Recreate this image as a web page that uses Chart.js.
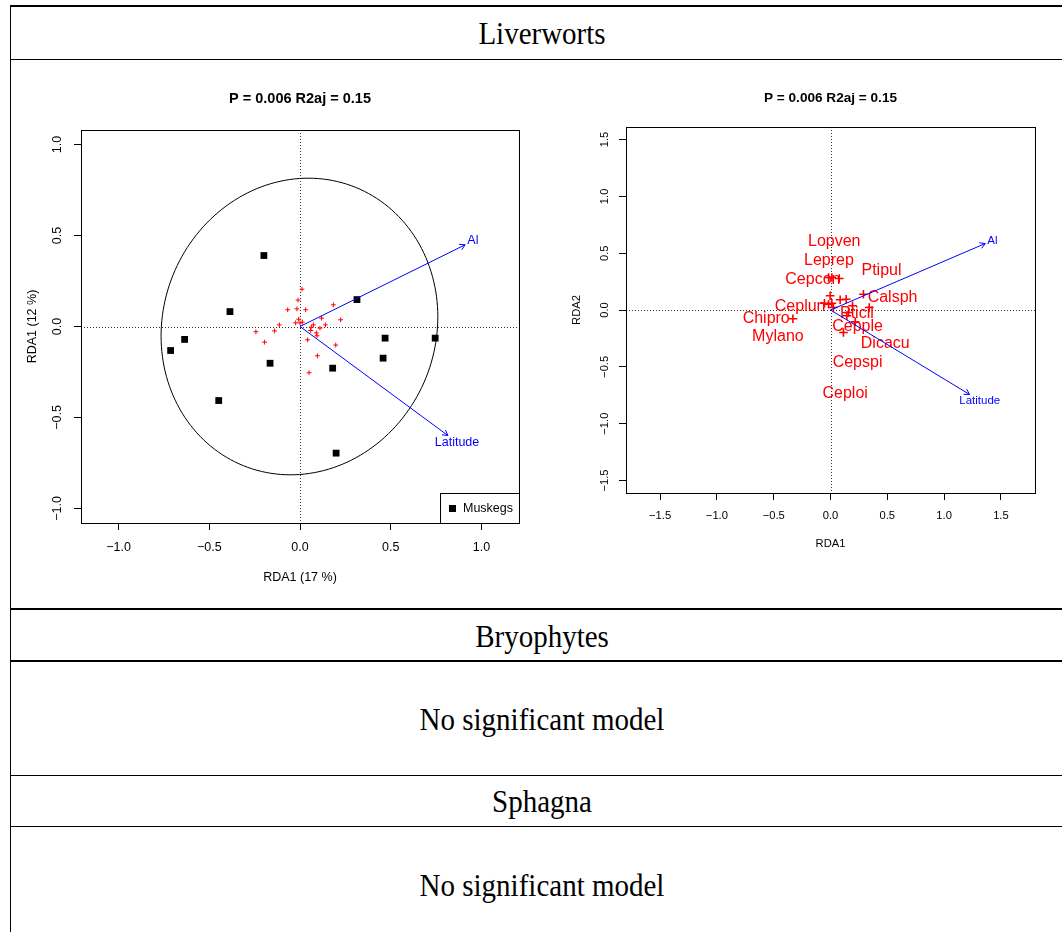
<!DOCTYPE html>
<html>
<head>
<meta charset="utf-8">
<script src="https://cdn.jsdelivr.net/npm/chart.js@4.4.1/dist/chart.umd.min.js"></script>
<style>
body { margin: 0; background: #fff; width: 1062px; height: 932px; overflow: hidden; position: relative; font-family: "Liberation Serif", "Times New Roman", serif; }
.hl { position: absolute; left: 10px; width: 1052px; background: #000; }
.vl { position: absolute; left: 10px; top: 5px; width: 1px; height: 927px; background: #000; }
.cell { position: absolute; left: 10px; width: 1064px; height: 34px; line-height: 34px; text-align: center; font-size: 29px; color: #000; transform: scaleY(1.1); }
#left { position: absolute; left: 11px; top: 60px; }
#right { position: absolute; left: 560px; top: 60px; }
</style>
</head>
<body>
<div class="hl" style="top:5px;height:2px"></div>
<div class="hl" style="top:59px;height:1px"></div>
<div class="hl" style="top:608px;height:2px"></div>
<div class="hl" style="top:660px;height:2px"></div>
<div class="hl" style="top:775px;height:1px"></div>
<div class="hl" style="top:826px;height:1px"></div>
<div class="vl"></div>

<div class="cell" style="top:16px">Liverworts</div>
<div class="cell" style="top:619px">Bryophytes</div>
<div class="cell" style="top:702px">No significant model</div>
<div class="cell" style="top:784px">Sphagna</div>
<div class="cell" style="top:868px">No significant model</div>

<canvas id="left" width="549" height="548"></canvas>
<canvas id="right" width="502" height="548"></canvas>

<script>
// ---- left panel : sites (Muskegs) ----
var siteX = [-0.199, -0.386, 0.314, -0.713, -0.636, -0.165, -0.448, 0.469, 0.745, 0.458, 0.180, 0.199];
var siteY = [0.390, 0.082, 0.148, -0.132, -0.071, -0.202, -0.407, -0.064, -0.064, -0.174, -0.229, -0.696];

// ---- left panel : species scores ----
var sppX = [0.011, -0.011, -0.017, -0.068, 0.031, 0.184, 0.224, 0.119, -0.007, -0.024, 0.000, 0.013, -0.114, -0.243,
            -0.140, -0.195, 0.074, 0.140, 0.110, 0.059, 0.090, 0.094, 0.042, 0.197, 0.096, 0.050, 0.062];
var sppY = [0.205, 0.145, 0.097, 0.092, 0.092, 0.119, 0.037, 0.046, 0.040, 0.020, 0.020, 0.024, 0.009, -0.029,
            -0.024, -0.086, 0.009, 0.009, -0.009, -0.022, -0.035, -0.051, -0.073, -0.102, -0.161, -0.254, -0.004];

// ellipse drawn on left panel: centre x, centre y, semi-axis a, semi-axis b, angle (deg)
var ellipseLeft = [-0.003, 0.0, 0.825, 0.752, 68];

// ---- explanatory variables ----
var envNames = ['Al', 'Latitude'];
var envLeftX = [0.910, 0.815];
var envLeftY = [0.449, -0.599];
var envRightX = [1.362, 1.224];
var envRightY = [0.585, -0.743];

// ---- right panel : labelled species ----
var labNames = ['Lopven', 'Leprep', 'Ptipul', 'Cepcon', 'Calsph', 'Ceplun', 'Pticil', 'Chipro', 'Cepple', 'Mylano', 'Dicacu', 'Cepspi', 'Ceploi'];
var labX = [0.033, -0.014, 0.449, -0.155, 0.546, -0.267, 0.232, -0.566, 0.238, -0.463, 0.482, 0.238, 0.129];
var labY = [0.602, 0.435, 0.347, 0.266, 0.107, 0.031, -0.028, -0.077, -0.145, -0.233, -0.292, -0.459, -0.732];

// ---- right panel : unlabelled species (+) ----
var plusX = [-0.017, 0.012, 0.077, -0.003, -0.053, -0.017, 0.012, 0.026, 0.085, 0.138, 0.194, 0.290, 0.341, 0.159, 0.144, 0.217, 0.114, -0.331];
var plusY = [0.286, 0.286, 0.277, 0.125, 0.060, 0.051, 0.060, 0.022, 0.090, 0.095, 0.037, 0.139, 0.022, -0.022, -0.051, -0.104, -0.198, -0.077];

// ---- tick labels ----
var ticksLeft = [-1, -0.5, 0, 0.5, 1];
var ticksRight = [-1.5, -1, -0.5, 0, 0.5, 1, 1.5];

var mainTitle = 'P = 0.006 R2aj = 0.15';
var SANS = '"Liberation Sans", Arial, Helvetica, sans-serif';

function pts(xs, ys) {
    return xs.map(function (x, i) { return { x: x, y: ys[i] }; });
}

function fmt(v) {
    return (v < 0 ? '\u2212' : '') + Math.abs(v).toFixed(1);
}

// box, dotted zero lines, rotated y tick labels
var rPlot = {
    id: 'rPlot',
    beforeDatasetsDraw: function (chart, args, o) {
        var ctx = chart.ctx, a = chart.chartArea;
        var xs = chart.scales.x, ys = chart.scales.y;
        ctx.save();
        ctx.lineWidth = 1;
        ctx.strokeStyle = '#333';
        ctx.setLineDash([1, 2]);
        var x0 = Math.round(xs.getPixelForValue(0)) + 0.5;
        var y0 = Math.round(ys.getPixelForValue(0)) + 0.5;
        ctx.beginPath();
        ctx.moveTo(x0, a.top); ctx.lineTo(x0, a.bottom);
        ctx.moveTo(a.left, y0); ctx.lineTo(a.right, y0);
        ctx.stroke();
        ctx.setLineDash([]);
        ctx.strokeStyle = '#000';
        ctx.strokeRect(Math.round(a.left) + 0.5, Math.round(a.top) + 0.5, Math.round(a.right - a.left), Math.round(a.bottom - a.top));

        if (o.ellipse) {
            var e = o.ellipse, th = e[4] * Math.PI / 180;
            ctx.beginPath();
            for (var k = 0; k <= 360; k += 2) {
                var t = k * Math.PI / 180;
                var ex = e[0] + e[2] * Math.cos(th) * Math.cos(t) - e[3] * Math.sin(th) * Math.sin(t);
                var ey = e[1] + e[2] * Math.sin(th) * Math.cos(t) + e[3] * Math.cos(th) * Math.sin(t);
                var px = xs.getPixelForValue(ex), py = ys.getPixelForValue(ey);
                if (k === 0) ctx.moveTo(px, py); else ctx.lineTo(px, py);
            }
            ctx.stroke();
        }

        ctx.fillStyle = '#000';
        ctx.font = o.tickSize + 'px ' + SANS;
        ctx.textAlign = 'center';
        ctx.textBaseline = 'middle';
        ys.ticks.forEach(function (t) {
            ctx.save();
            ctx.translate(a.left - o.yLabelGap, ys.getPixelForValue(t.value));
            ctx.rotate(-Math.PI / 2);
            ctx.fillText(fmt(t.value), 0, 0);
            ctx.restore();
        });
        ctx.restore();
    },
    afterDatasetsDraw: function (chart, args, o) {
        var ctx = chart.ctx, a = chart.chartArea;
        var xs = chart.scales.x, ys = chart.scales.y;
        ctx.save();
        // text labels attached to datasets
        chart.data.datasets.forEach(function (ds, i) {
            if (!ds.textLabels) return;
            var meta = chart.getDatasetMeta(i);
            ctx.fillStyle = ds.textColor;
            ctx.font = ds.textSize + 'px ' + SANS;
            ctx.textAlign = 'center';
            ctx.textBaseline = 'middle';
            meta.data.forEach(function (el, j) {
                ctx.fillText(ds.textLabels[j], el.x, el.y);
            });
        });

        // biplot arrows
        var ox = xs.getPixelForValue(0), oy = ys.getPixelForValue(0);
        ctx.strokeStyle = '#0000ff';
        ctx.fillStyle = '#0000ff';
        ctx.lineWidth = 1;
        ctx.font = o.arrowSize + 'px ' + SANS;
        ctx.textAlign = 'center';
        ctx.textBaseline = 'middle';
        o.arrowX.forEach(function (vx, i) {
            var tx = xs.getPixelForValue(vx), ty = ys.getPixelForValue(o.arrowY[i]);
            var ang = Math.atan2(ty - oy, tx - ox), hl = 6;
            ctx.beginPath();
            ctx.moveTo(ox, oy); ctx.lineTo(tx, ty);
            ctx.moveTo(tx - hl * Math.cos(ang - Math.PI / 6), ty - hl * Math.sin(ang - Math.PI / 6));
            ctx.lineTo(tx, ty);
            ctx.lineTo(tx - hl * Math.cos(ang + Math.PI / 6), ty - hl * Math.sin(ang + Math.PI / 6));
            ctx.stroke();
            // label just beyond the tip (vegan ordiArrowTextXY)
            var w = ctx.measureText(o.arrowNames[i]).width, h = 0.72 * o.arrowSize;
            var dx = tx - ox, dy = oy - ty, b = dy / dx;
            var offX = Math.sign(dx) * (w / 2 + h / 4), offY = 0.75 * h * Math.sign(dy);
            var mv = offY / b;
            if (isFinite(mv) && Math.abs(mv) <= Math.abs(offX)) offX = mv; else offY = b * offX;
            ctx.fillText(o.arrowNames[i], tx + offX, ty - offY);
        });

        // legend box
        if (o.legend) {
            var lw = 79, lh = 30;
            var lx = Math.round(a.right) - lw + 0.5, ly = Math.round(a.bottom) - lh + 0.5;
            ctx.fillStyle = '#fff';
            ctx.fillRect(lx, ly, lw, lh);
            ctx.strokeStyle = '#000';
            ctx.strokeRect(lx, ly, lw, lh);
            ctx.fillStyle = '#000';
            ctx.fillRect(lx + 8.5, ly + 11.5, 7, 7);
            ctx.font = o.legendSize + 'px ' + SANS;
            ctx.textAlign = 'left';
            ctx.fillText(chart.data.datasets[0].label, lx + 22.5, ly + lh / 2 + 0.5);
        }
        ctx.restore();
    }
};

function axes(p) {
    return {
        x: {
            type: 'linear', position: 'bottom', min: p.xMin, max: p.xMax,
            afterBuildTicks: function (s) { s.ticks = p.ticks.map(function (v) { return { value: v }; }); },
            afterFit: function (s) { s.height = 80; },
            ticks: { color: '#000', font: { family: SANS, size: p.tick }, padding: p.xTickPad, maxRotation: 0, autoSkip: false, callback: fmt },
            grid: { drawOnChartArea: false, drawTicks: true, tickLength: 7, tickColor: '#000', tickWidth: 1 },
            border: { display: false },
            title: { display: true, text: p.xTitle, color: '#000', font: { family: SANS, size: p.tick }, padding: { top: 0, bottom: p.xTitlePad } }
        },
        y: {
            type: 'linear', position: 'left', min: p.yMin, max: p.yMax,
            afterBuildTicks: function (s) { s.ticks = p.ticks.map(function (v) { return { value: v }; }); },
            afterFit: function (s) { s.width = p.yWidth; },
            ticks: { display: false },
            grid: { drawOnChartArea: false, drawTicks: true, tickLength: 7, tickColor: '#000', tickWidth: 1 },
            border: { display: false },
            title: { display: true, text: p.yTitle, color: '#000', font: { family: SANS, size: p.tick }, padding: { top: p.yTitlePad, bottom: 0 } }
        }
    };
}

new Chart(document.getElementById('left').getContext('2d'), {
    type: 'scatter',
    data: {
        datasets: [{
            label: 'Muskegs',
            data: pts(siteX, siteY),
            pointStyle: 'rect', pointRadius: 4.8, backgroundColor: '#000', borderColor: '#000', borderWidth: 0
        }, {
            label: 'species',
            data: pts(sppX, sppY),
            pointStyle: 'cross', pointRadius: 2.4, borderColor: '#ff0000', borderWidth: 1
        }]
    },
    options: {
        responsive: false, animation: false, events: [],
        layout: { padding: { left: 5, right: 41, top: 0, bottom: 5 } },
        scales: axes({ xMin: -1.207, xMax: 1.207, yMin: -1.08, yMax: 1.08, ticks: ticksLeft, tick: 12.5,
                       xTickPad: 10.5, xTitlePad: 17.5, yWidth: 65, yTitlePad: 9.5,
                       xTitle: 'RDA1 (17 %)', yTitle: 'RDA1 (12 %)' }),
        plugins: {
            legend: { display: false },
            tooltip: { enabled: false },
            title: { display: true, fullSize: false, text: mainTitle, color: '#000',
                     font: { family: SANS, size: 14.5, weight: 'bold' }, padding: { top: 30.3, bottom: 22.3 } },
            rPlot: { tickSize: 12.5, yLabelGap: 23, ellipse: ellipseLeft,
                     arrowX: envLeftX, arrowY: envLeftY, arrowNames: envNames, arrowSize: 12.5,
                     legend: true, legendSize: 12.5 }
        }
    },
    plugins: [rPlot]
});

new Chart(document.getElementById('right').getContext('2d'), {
    type: 'scatter',
    data: {
        datasets: [{
            label: 'unlabelled',
            data: pts(plusX, plusY),
            pointStyle: 'cross', pointRadius: 4.3, borderColor: '#ff0000', borderWidth: 1.6
        }, {
            label: 'labelled',
            data: pts(labX, labY),
            pointRadius: 0,
            textLabels: labNames, textColor: '#ff0000', textSize: 16
        }]
    },
    options: {
        responsive: false, animation: false, events: [],
        layout: { padding: { left: 6, right: 27, top: 0, bottom: 35 } },
        scales: axes({ xMin: -1.8, xMax: 1.8, yMin: -1.61, yMax: 1.61, ticks: ticksRight, tick: 11.2,
                       xTickPad: 9.3, xTitlePad: 22.3, yWidth: 60, yTitlePad: 4.3,
                       xTitle: 'RDA1', yTitle: 'RDA2' }),
        plugins: {
            legend: { display: false },
            tooltip: { enabled: false },
            title: { display: true, fullSize: false, text: mainTitle, color: '#000',
                     font: { family: SANS, size: 13.6, weight: 'bold' }, padding: { top: 29.8, bottom: 20.9 } },
            rPlot: { tickSize: 11.2, yLabelGap: 21,
                     arrowX: envRightX, arrowY: envRightY, arrowNames: envNames, arrowSize: 11.5,
                     legend: false }
        }
    },
    plugins: [rPlot]
});
</script>
</body>
</html>
